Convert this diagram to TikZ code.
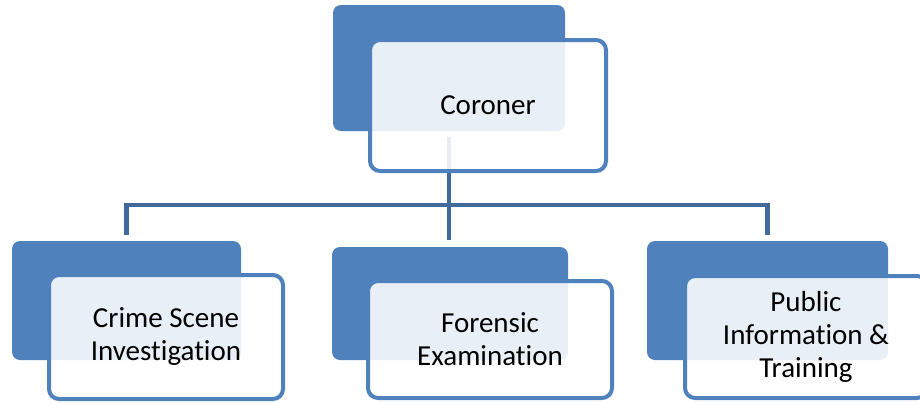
\documentclass[tikz,border=0pt]{standalone}
\usepackage{fontspec}
\setmainfont{Carlito}[Ligatures={NoCommon}]
\definecolor{accent}{HTML}{4F81BD}
\definecolor{linkc}{HTML}{41699B}
\begin{document}
\begin{tikzpicture}[x=1pt,y=-1pt,
  backbox/.style={fill=accent, rounded corners=8pt, inner sep=0pt, outer sep=0pt, anchor=north west},
  frontbox/.style={draw=accent, line width=4pt, fill=white, fill opacity=0.88, text opacity=1,
    rounded corners=10pt, inner sep=0pt, outer sep=0pt, anchor=north west, align=center,
    font=\fontsize{29}{33}\selectfont, text=black},
  conn/.style={draw=linkc, line width=4.5pt}]
\useasboundingbox (0,0) rectangle (920,402);
\clip (0,0) rectangle (920,402);
% back boxes
\node[backbox, minimum width=232pt, minimum height=126pt] (corB) at (333,5) {};
\node[backbox, minimum width=229pt, minimum height=119pt] (crB) at (12,241) {};
\node[backbox, minimum width=236pt, minimum height=113pt] (forB) at (332,247) {};
\node[backbox, minimum width=241pt, minimum height=119pt] (pubB) at (647,241) {};
% connectors
\coordinate (bus) at (449.5,205);
\draw[conn] ([yshift=-6pt]corB.south) -- ([yshift=7pt]corB.south |- forB.north);
\draw[conn] ([yshift=6pt]crB.north) |- (bus) -| ([yshift=6pt]pubB.north);
% front boxes
\node[frontbox, minimum width=236pt, minimum height=131pt] (corF) at (370,40) {Coroner};
\node[frontbox, minimum width=234pt, minimum height=124pt] (crF) at (49,275) {Crime Scene\\Investigation};
\node[frontbox, minimum width=244pt, minimum height=117pt] (forF) at (368,281) {Forensic\\Examination};
\node[frontbox, minimum width=242pt, minimum height=122pt] (pubF) at (685,276) {Public\\Information \&\\Training};
\end{tikzpicture}
\end{document}
